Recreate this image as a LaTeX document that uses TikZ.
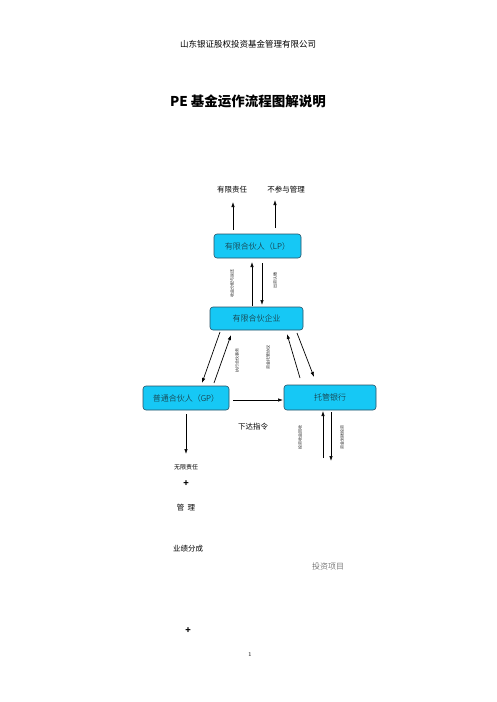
\documentclass[tikz,border=0pt]{standalone}
\usepackage{fontspec}
\newfontfamily\cjk{Noto Sans CJK SC}
\newfontfamily\cjkl[UprightFont=* Light]{Noto Sans CJK SC}
\usetikzlibrary{arrows.meta}
\definecolor{boxfill}{RGB}{22,200,245}
\definecolor{boxline}{RGB}{40,80,100}
\tikzset{
  x=1pt,y=-1pt,
  pbox/.style={draw=boxline,line width=0.6pt,fill=boxfill,rounded corners=3pt,inner sep=0pt,font=\cjkl\fontsize{8}{9}\selectfont,text=black!90},
  arr/.style={-{Latex[length=5pt,width=3.5pt]},line width=0.7pt},
  lbl/.style={font=\cjk\fontsize{7.5}{9}\selectfont,inner sep=0pt},
  vlbl/.style={font=\cjk\fontsize{4}{5}\selectfont,rotate=90,inner sep=0pt,text=black!85}
}
\begin{document}
\begin{tikzpicture}
\useasboundingbox (0,0) rectangle (496,702);
\node[lbl,font=\cjk\fontsize{8.5}{10}\selectfont] (hdr) at (248,44) {山东银证股权投资基金管理有限公司};
\node[lbl,font=\cjk\bfseries\fontsize{13.5}{15}\selectfont] (title) at (248,101) {PE 基金运作流程图解说明};

\node[lbl] (yxzr) at (232,190) {有限责任};
\node[lbl] (bcy) at (286,190) {不参与管理};

\node[pbox,minimum width=87pt,minimum height=24pt] (lp) at (257.5,246) {有限合伙人（LP）};
\node[pbox,minimum width=93pt,minimum height=23pt] (ent) at (256.5,318.5) {有限合伙企业};
\node[pbox,minimum width=86pt,minimum height=24pt] (gp) at (186,398) {普通合伙人（GP）};
\node[pbox,minimum width=92pt,minimum height=25pt] (bank) at (330,397.5) {托管银行};

% LP upward arrows
\coordinate (u1s) at (233,230); \coordinate (u1e) at (233,202);
\coordinate (u2s) at (275,228); \coordinate (u2e) at (275,200);
\draw[arr] (u1s) -- (u1e);
\draw[arr] (u2s) -- (u2e);

% LP <-> enterprise
\coordinate (l1s) at (252,306); \coordinate (l1e) at (252,262);
\coordinate (l2s) at (262,263); \coordinate (l2e) at (262,305);
\draw[arr] (l1s) -- (l1e);
\draw[arr] (l2s) -- (l2e);
\node[vlbl] (v1) at (232,283) {收益分配与返还};
\node[vlbl] (v2) at (275,280) {出资认缴};

% enterprise <-> GP
\coordinate (g1s) at (220,332); \coordinate (g1e) at (202,383);
\coordinate (g2s) at (214,383); \coordinate (g2e) at (231,335);
\draw[arr] (g1s) -- (g1e);
\draw[arr] (g2s) -- (g2e);
\node[vlbl] (v3) at (237,360) {执行合伙事务};
\node[vlbl] (v4) at (268,357) {资金托管协议};

% enterprise <-> bank
\coordinate (b1s) at (300,378); \coordinate (b1e) at (287,334);
\coordinate (b2s) at (297,333); \coordinate (b2e) at (314,377);
\draw[arr] (b1s) -- (b1e);
\draw[arr] (b2s) -- (b2e);

% GP -> bank
\coordinate (hs) at (233,400); \coordinate (he) at (283,400);
\draw[arr] (hs) -- (he);
\node[lbl] (xdzl) at (253,427) {下达指令};

% bank <-> below
\coordinate (k1s) at (323,458); \coordinate (k1e) at (323,411);
\coordinate (k2s) at (331,412); \coordinate (k2e) at (331,461);
\draw[arr] (k1s) -- (k1e);
\draw[arr] (k2s) -- (k2e);
\node[vlbl] (v5) at (300,437) {投资收益回收};
\node[vlbl] (v6) at (342,437) {资金划拨投资};

% GP down
\coordinate (d1s) at (186,414); \coordinate (d1e) at (186,454);
\draw[arr] (d1s) -- (d1e);
\node[lbl,font=\cjk\fontsize{6}{7}\selectfont] (wxzr) at (186,467) {无限责任};
\node[lbl,font=\cjk\bfseries\fontsize{9}{10}\selectfont] (p1) at (186,484) {+};
\node[lbl] (gl) at (186,508) {管\ \ 理};
\node[lbl] (yjfc) at (188,549) {业绩分成};
\node[lbl,font=\cjkl\fontsize{8}{9}\selectfont,text=black!75] (tzxm) at (328,566) {投资项目};
\node[lbl,font=\cjk\bfseries\fontsize{9}{10}\selectfont] (p2) at (188,631) {+};
\node[lbl,font=\fontsize{6}{7}\selectfont] (pg) at (250,654) {1};
\end{tikzpicture}
\end{document}
